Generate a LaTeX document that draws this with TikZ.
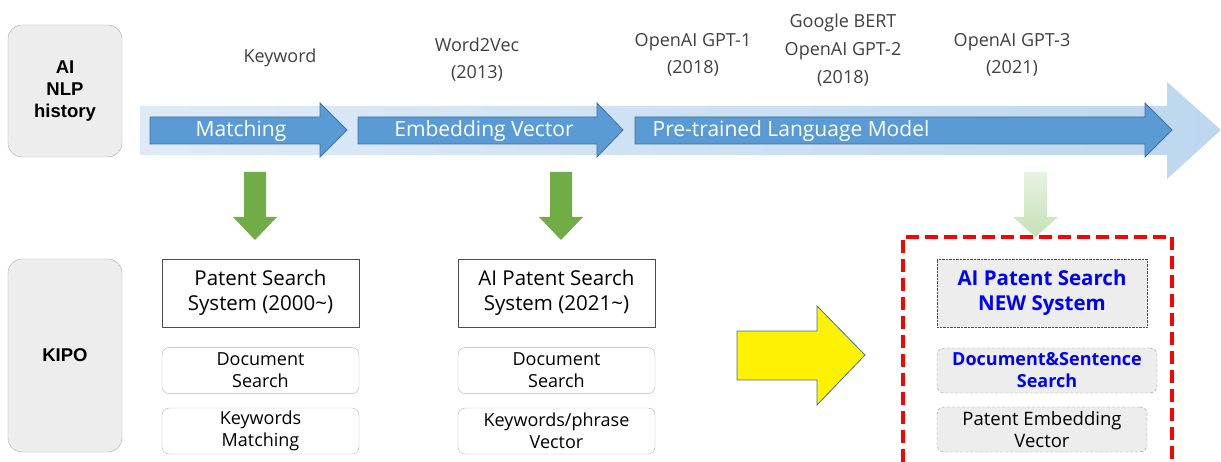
\documentclass[tikz,border=0pt]{standalone}
\usepackage{fontspec}
\setmainfont{Open Sans}
\newfontfamily\arialfont{Liberation Sans}
\usetikzlibrary{positioning}

\definecolor{arrowblue}{RGB}{91,155,213}
\definecolor{arrowedge}{RGB}{65,113,156}
\definecolor{bandlight}{RGB}{222,235,247}
\definecolor{banddark}{RGB}{189,215,238}
\definecolor{leafgreen}{RGB}{112,173,71}
\definecolor{palegreen}{RGB}{197,224,180}
\definecolor{fadegreen}{RGB}{232,243,225}
\definecolor{boxgray}{RGB}{237,237,237}
\definecolor{labelgray}{RGB}{64,64,64}
\definecolor{newblue}{RGB}{0,0,255}

\tikzset{
  sidebox/.style={draw=gray!70, fill=boxgray, rounded corners=14pt, minimum width=114pt,
    align=center, font=\arialfont\bfseries\fontsize{18.5}{22}\selectfont},
  sysbox/.style={draw=black!70, line width=0.8pt, minimum width=197pt, minimum height=68pt,
    align=center, inner sep=0pt, font=\fontsize{20.5}{25}\selectfont},
  featbox/.style={draw=gray!60, rounded corners=7pt, minimum width=197pt, minimum height=46pt,
    align=center, inner sep=0pt, font=\fontsize{18}{22}\selectfont},
  newbox/.style={fill=boxgray, draw=black!70, align=center, inner sep=0pt},
  milestone/.style={text=labelgray, align=center, font=\fontsize{18}{27}\selectfont},
  stagearrow/.style={fill=arrowblue, draw=arrowedge, line width=0.8pt},
  stagetext/.style={text=white, font=\fontsize{21}{25}\selectfont},
}

\begin{document}
\begin{tikzpicture}[x=1pt, y=-1pt]
    \useasboundingbox (0,0) rectangle (1221,462);

    % row titles
    \node[sidebox, minimum height=132pt] (nlp) at (65,91) {AI\\NLP\\history};
    \node[sidebox, minimum height=193pt] (kipo) at (65,355.5) {KIPO};

    % timeline band
    \shade[left color=bandlight, right color=banddark]
        (140,106) -- (1167,106) -- (1167,82) -- (1221,130) -- (1167,179) -- (1167,155) -- (140,155) -- cycle;

    % stage arrows
    \draw[stagearrow] (150,117) -- (320,117) -- (320,103) -- (347,130) -- (320,157) -- (320,144) -- (150,144) -- cycle;
    \draw[stagearrow] (358,117) -- (597,117) -- (597,103) -- (623,130) -- (597,157) -- (597,144) -- (358,144) -- cycle;
    \draw[stagearrow] (635,117) -- (1145,117) -- (1145,103) -- (1172,130) -- (1145,157) -- (1145,144) -- (635,144) -- cycle;
    \node[stagetext] (matching) at (241,131) {Matching};
    \node[stagetext] (embedding) at (484,131) {Embedding Vector};
    \node[stagetext] (pretrained) at (791,131) {Pre-trained Language Model};

    % milestones
    \node[milestone] (keyword) at (280,58) {Keyword};
    \node[milestone] (wordvec) at (477,60) {Word2Vec\\(2013)};
    \node[milestone] (gptone) at (693,54.5) {OpenAI GPT-1\\(2018)};
    \node[milestone, font=\fontsize{18}{28}\selectfont] (bert) at (843,50) {Google BERT\\OpenAI GPT-2\\(2018)};
    \node[milestone] (gptthree) at (1012,54.5) {OpenAI GPT-3\\(2021)};

    % down arrows
    \foreach \cx in {255,561}
        \fill[leafgreen] (\cx-11,172) -- (\cx+11,172) -- (\cx+11,217) -- (\cx+22,217) -- (\cx,240)
            -- (\cx-22,217) -- (\cx-11,217) -- cycle;
    \shade[top color=fadegreen, bottom color=palegreen]
        (1024,172) -- (1047,172) -- (1047,217) -- (1058,217) -- (1035.5,237) -- (1013,217) -- (1024,217) -- cycle;

    % old systems
    \node[sysbox] (oldsys) at (260.5,293) {Patent Search\\System (2000\textasciitilde)};
    \node[featbox, below=20pt of oldsys] (olddoc) {Document\\Search};
    \node[featbox, below=14pt of olddoc] (oldkey) {Keywords\\Matching};

    \node[sysbox] (aisys) at (556.5,293) {AI Patent Search\\System (2021\textasciitilde)};
    \node[featbox, below=20pt of aisys] (aidoc) {Document\\Search};
    \node[featbox, below=14pt of aidoc] (aikey) {Keywords/phrase\\Vector};

    % yellow arrow
    \draw[fill=yellow, draw=arrowedge, line width=0.8pt]
        (737,331) -- (817,331) -- (817,306) -- (865,355) -- (817,405) -- (817,380) -- (737,380) -- cycle;

    % new system
    \draw[red, line width=4pt, dash pattern=on 13pt off 6pt] (903,462) -- (903,237) -- (1172,237) -- (1172,462);
    \node[newbox, densely dotted, minimum width=210pt, minimum height=68pt, text=newblue,
        font=\bfseries\fontsize{20.5}{25}\selectfont] (newsys) at (1042,293) {AI Patent Search\\NEW System};
    \node[newbox, draw=gray!80, densely dashed, rounded corners=7pt, minimum width=220pt, minimum height=45pt,
        text=newblue, font=\bfseries\fontsize{18}{22}\selectfont] (newdoc) at (1047,370.5) {Document\&Sentence\\Search};
    \node[newbox, draw=gray!80, densely dashed, rounded corners=7pt, minimum width=210pt, minimum height=45pt,
        font=\fontsize{18.5}{22}\selectfont] (newvec) at (1042,429.5) {Patent Embedding\\Vector};
\end{tikzpicture}
\end{document}
